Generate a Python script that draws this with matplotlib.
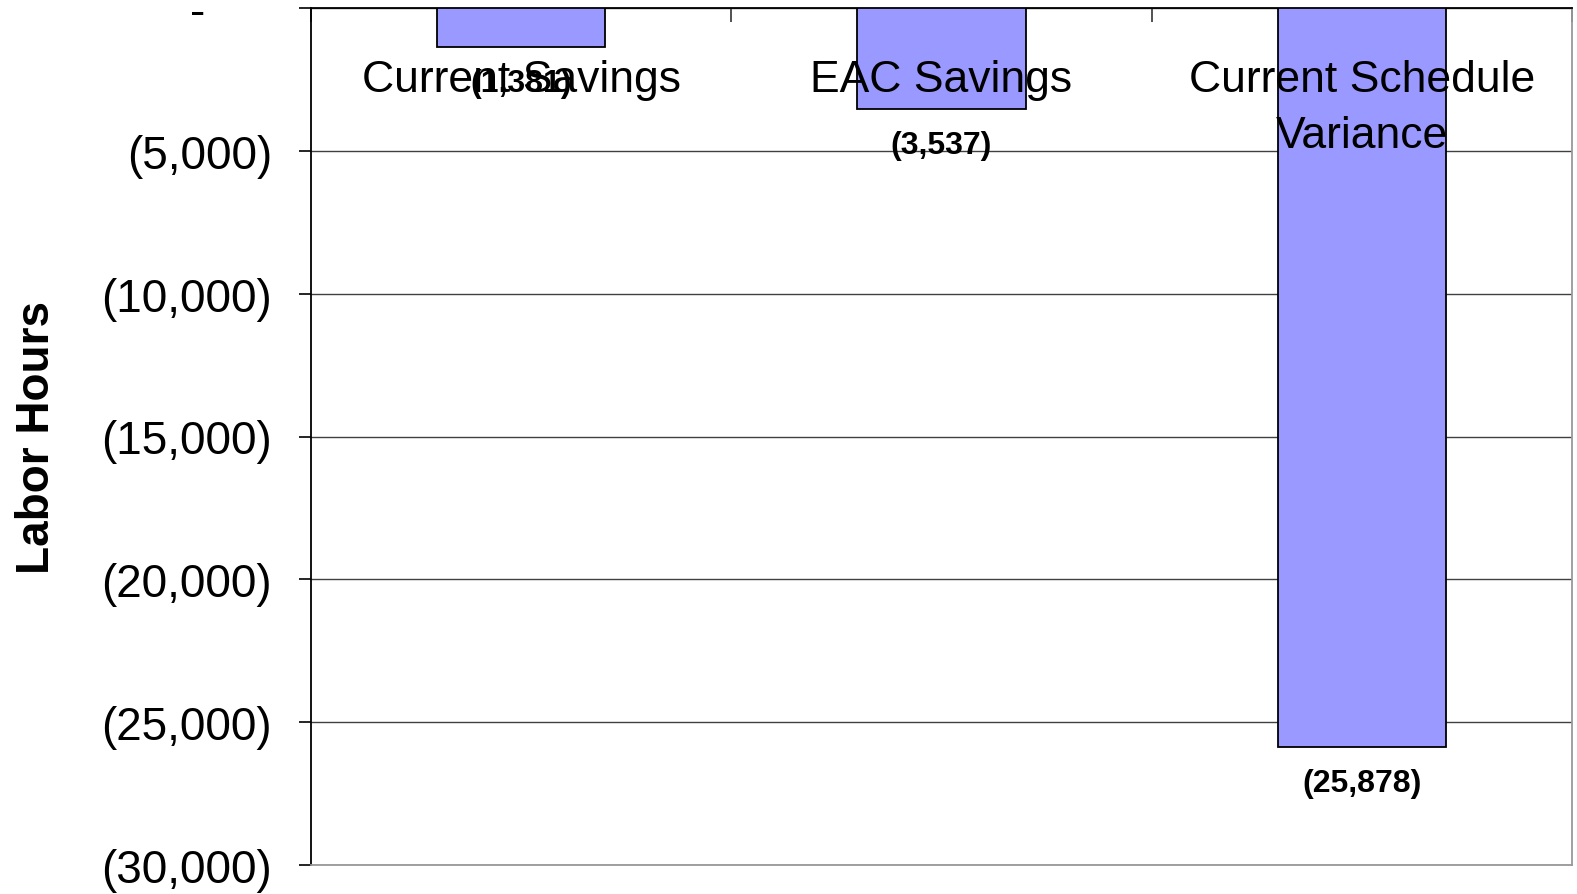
import matplotlib
matplotlib.use("Agg")
import matplotlib.pyplot as plt
import numpy as np

categories = ["Current Savings", "EAC Savings", "Current Schedule\nVariance"]
values = [-1381, -3537, -25878]
value_labels = ["(1,381)", "(3,537)", "(25,878)"]
y_ticks = [0, -5000, -10000, -15000, -20000, -25000, -30000]
y_tick_labels = ["-", "(5,000)", "(10,000)", "(15,000)", "(20,000)", "(25,000)", "(30,000)"]

plt.rcParams['font.family'] = ['Liberation Sans', 'DejaVu Sans']

W, H = 1577, 895
fig = plt.figure(figsize=(W / 100, H / 100), dpi=100)
L, R, T, B = 311, 1572, 9, 866
ax = fig.add_axes([L / W, 1 - B / H, (R - L) / W, (B - T) / H])

x = np.arange(len(categories))
ax.bar(x, values, width=0.4, color="#9999FF", edgecolor="black", linewidth=1.3, zorder=3)

ax.set_xlim(-0.5, len(categories) - 0.5)
ax.set_ylim(-30000, 0)

ax.set_yticks(y_ticks)
ax.set_yticklabels(y_tick_labels, fontsize=33)
ax.tick_params(axis="y", direction="out", length=9, width=1.2, pad=19, color="black")
ax.yaxis.grid(True, color="#404040", linewidth=1.0, zorder=0)
ax.set_axisbelow(True)

ax.xaxis.tick_top()
ax.set_xticks(np.arange(len(categories) + 1) - 0.5)
ax.set_xticklabels([])
ax.tick_params(axis="x", direction="in", length=10, width=1.2, color="#333333")

for s in ["left", "top"]:
    ax.spines[s].set_color("black")
    ax.spines[s].set_linewidth(1.3)
for s in ["right", "bottom"]:
    ax.spines[s].set_color("#999999")
    ax.spines[s].set_linewidth(1.3)

# zero tick label shifted left
for tk, lab in zip(ax.yaxis.get_major_ticks(), y_tick_labels):
    if lab == "-":
        tk.label1.set_x(-67 / (R - L))

# category labels inside the top of the plot
for xi, cat in zip(x, categories):
    ax.annotate(cat, xy=(xi, 0), xycoords="data", xytext=(0, -51),
                textcoords="offset pixels", ha="center", va="top",
                fontsize=32, linespacing=1.48, zorder=5)

# value labels below bars
for xi, v, lab in zip(x, values, value_labels):
    ax.annotate(lab, xy=(xi, v), xycoords="data", xytext=(0, -36),
                textcoords="offset pixels", ha="center", va="center",
                fontsize=23, fontweight="bold", zorder=5)

fig.text(37 / W, 1 - 437 / H, "Labor Hours", rotation=90, ha="center", va="center",
         fontsize=33, fontweight="bold")

fig.savefig("out.png", dpi=100)
